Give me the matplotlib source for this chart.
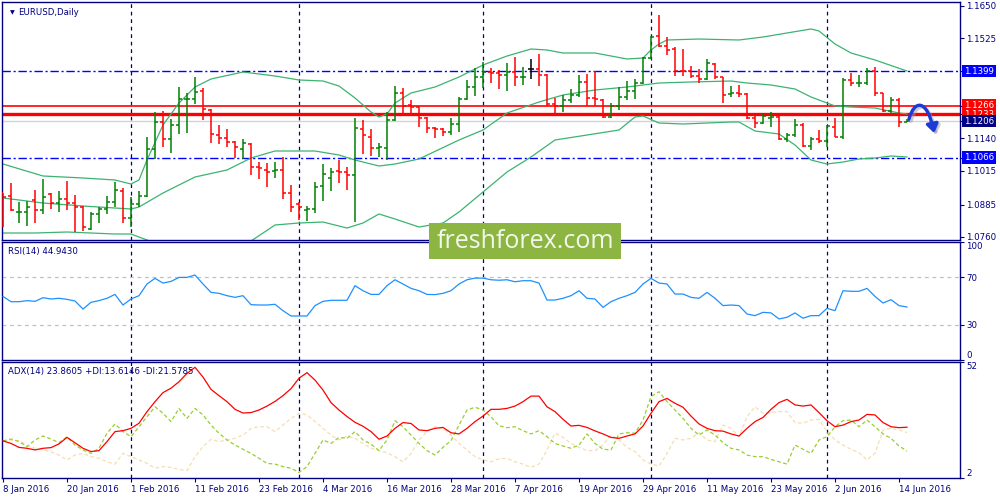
import matplotlib
matplotlib.use("Agg")
import matplotlib.pyplot as plt
from matplotlib.path import Path
from matplotlib.patches import FancyArrowPatch, Rectangle
from matplotlib import transforms
import numpy as np

# ---------------- data ----------------
opens = [1.0928, 1.0918, 1.0855, 1.0855, 1.0903, 1.0864, 1.0925, 1.0890, 1.0905, 1.0890,
         1.0877, 1.0790, 1.0849, 1.0868, 1.0894, 1.0937, 1.0832, 1.0887, 1.0918, 1.1099,
         1.1204, 1.1138, 1.1192, 1.1290, 1.1290, 1.1323, 1.1249, 1.1153, 1.1140, 1.1125,
         1.1098, 1.1118, 1.1031, 1.1018, 1.1016, 1.1018, 1.0928, 1.0887, 1.0864, 1.0868,
         1.0957, 1.0986, 1.1014, 1.1009, 1.0999, 1.1176, 1.1147, 1.1102, 1.1102, 1.1211,
         1.1314, 1.1269, 1.1260, 1.1217, 1.1179, 1.1175, 1.1163, 1.1195, 1.1290, 1.1337,
         1.1375, 1.1397, 1.1393, 1.1384, 1.1397, 1.1375, 1.1406, 1.1406, 1.1384, 1.1272,
         1.1265, 1.1288, 1.1307, 1.1358, 1.1294, 1.1288, 1.1221, 1.1265, 1.1301, 1.1324,
         1.1352, 1.1448, 1.1534, 1.1496, 1.1483, 1.1401, 1.1401, 1.1380, 1.1367, 1.1427,
         1.1375, 1.1311, 1.1316, 1.1311, 1.1217, 1.1200, 1.1217, 1.1224, 1.1136, 1.1153,
         1.1192, 1.1112, 1.1136, 1.1131, 1.1185, 1.1144, 1.1365, 1.1352, 1.1355, 1.1401,
         1.1314, 1.1247, 1.1288, 1.1204]
highs = [1.0931, 1.0967, 1.0896, 1.0899, 1.0941, 1.0984, 1.0928, 1.0937, 1.0976, 1.0922,
         1.0880, 1.0855, 1.0877, 1.0918, 1.0971, 1.0948, 1.0915, 1.0937, 1.1144, 1.1240,
         1.1246, 1.1213, 1.1337, 1.1314, 1.1375, 1.1333, 1.1252, 1.1192, 1.1176, 1.1131,
         1.1138, 1.1121, 1.1050, 1.1044, 1.1048, 1.1067, 1.0961, 1.0896, 1.0881, 1.0971,
         1.1041, 1.1027, 1.1057, 1.1029, 1.1217, 1.1211, 1.1176, 1.1121, 1.1243, 1.1342,
         1.1333, 1.1288, 1.1262, 1.1224, 1.1185, 1.1179, 1.1220, 1.1301, 1.1365, 1.1410,
         1.1436, 1.1410, 1.1403, 1.1429, 1.1452, 1.1416, 1.1446, 1.1465, 1.1388, 1.1294,
         1.1307, 1.1329, 1.1384, 1.1388, 1.1401, 1.1290, 1.1275, 1.1337, 1.1362, 1.1367,
         1.1455, 1.1534, 1.1615, 1.1532, 1.1491, 1.1483, 1.1419, 1.1407, 1.1445, 1.1429,
         1.1378, 1.1342, 1.1346, 1.1314, 1.1236, 1.1236, 1.1242, 1.1226, 1.1162, 1.1213,
         1.1198, 1.1147, 1.1172, 1.1192, 1.1217, 1.1371, 1.1393, 1.1384, 1.1410, 1.1416,
         1.1316, 1.1301, 1.1297, 1.1213]
lows = [1.0800, 1.0862, 1.0815, 1.0804, 1.0815, 1.0849, 1.0867, 1.0858, 1.0864, 1.0778,
        1.0785, 1.0787, 1.0815, 1.0849, 1.0874, 1.0813, 1.0800, 1.0877, 1.0915, 1.1059,
        1.1106, 1.1085, 1.1157, 1.1160, 1.1271, 1.1211, 1.1124, 1.1118, 1.1106, 1.1066,
        1.1061, 1.0999, 1.0984, 1.0954, 1.0986, 1.0907, 1.0858, 1.0826, 1.0823, 1.0851,
        1.0900, 1.0939, 1.0969, 1.0941, 1.0819, 1.1079, 1.1072, 1.1070, 1.1057, 1.1208,
        1.1236, 1.1239, 1.1185, 1.1159, 1.1140, 1.1149, 1.1153, 1.1166, 1.1288, 1.1305,
        1.1333, 1.1352, 1.1329, 1.1324, 1.1342, 1.1346, 1.1369, 1.1342, 1.1265, 1.1236,
        1.1243, 1.1275, 1.1301, 1.1265, 1.1265, 1.1217, 1.1217, 1.1249, 1.1288, 1.1290,
        1.1350, 1.1444, 1.1493, 1.1461, 1.1380, 1.1380, 1.1371, 1.1355, 1.1365, 1.1367,
        1.1278, 1.1301, 1.1301, 1.1213, 1.1179, 1.1195, 1.1183, 1.1134, 1.1127, 1.1144,
        1.1108, 1.1095, 1.1124, 1.1108, 1.1144, 1.1136, 1.1342, 1.1339, 1.1346, 1.1303,
        1.1243, 1.1237, 1.1185, 1.1202]
closes = [1.0915, 1.0864, 1.0858, 1.0877, 1.0864, 1.0915, 1.0890, 1.0905, 1.0890, 1.0877,
          1.0800, 1.0849, 1.0868, 1.0896, 1.0941, 1.0832, 1.0887, 1.0918, 1.1099, 1.1204,
          1.1138, 1.1192, 1.1290, 1.1293, 1.1320, 1.1252, 1.1157, 1.1140, 1.1125, 1.1108,
          1.1121, 1.1031, 1.1025, 1.1009, 1.1020, 1.0928, 1.0877, 1.0877, 1.0868, 1.0954,
          1.1003, 1.1012, 1.1009, 1.0999, 1.1179, 1.1153, 1.1102, 1.1108, 1.1211, 1.1314,
          1.1265, 1.1262, 1.1217, 1.1179, 1.1175, 1.1163, 1.1195, 1.1290, 1.1337, 1.1375,
          1.1397, 1.1393, 1.1384, 1.1397, 1.1375, 1.1378, 1.1406, 1.1384, 1.1272, 1.1265,
          1.1288, 1.1307, 1.1358, 1.1294, 1.1290, 1.1221, 1.1265, 1.1301, 1.1324, 1.1352,
          1.1448, 1.1532, 1.1496, 1.1481, 1.1401, 1.1400, 1.1380, 1.1367, 1.1429, 1.1375,
          1.1307, 1.1316, 1.1311, 1.1217, 1.1200, 1.1226, 1.1224, 1.1136, 1.1153, 1.1192,
          1.1112, 1.1136, 1.1131, 1.1188, 1.1147, 1.1365, 1.1352, 1.1355, 1.1401, 1.1314,
          1.1247, 1.1288, 1.1204, 1.1206]

# Bollinger bands, read at selected bars
bb_upper_idx = [0, 5, 10, 14, 16, 17, 18, 20, 22, 24, 26, 30, 34, 37, 40, 42, 44, 46, 47, 48,
                49, 51, 54, 57, 60, 63, 66, 68, 70, 74, 78, 80, 81, 82, 83, 87, 92, 95, 98, 101,
                102, 104, 106, 109, 113]
bb_upper = [1.10412, 1.09950, 1.09873, 1.09796, 1.09641, 1.09796, 1.10566, 1.11915, 1.12762,
            1.13379, 1.13687, 1.13957, 1.13803, 1.13649, 1.13610, 1.13417, 1.12955, 1.12416,
            1.12223, 1.12339, 1.12762, 1.13148, 1.13379, 1.13764, 1.14227, 1.14573, 1.14843,
            1.14804, 1.14689, 1.14689, 1.14458, 1.14496, 1.14804, 1.15036, 1.15190, 1.15228,
            1.15190, 1.15305, 1.15460, 1.15614, 1.15537, 1.15036, 1.14689, 1.14419, 1.13995]
bb_mid_idx = [0, 5, 10, 16, 17, 20, 24, 28, 31, 34, 39, 42, 44, 47, 49, 52, 57, 60, 63, 67,
              70, 74, 78, 82, 86, 91, 93, 96, 99, 101, 104, 106, 109, 112, 113]
bb_mid = [1.09102, 1.08909, 1.08794, 1.08678, 1.08755, 1.09295, 1.09911, 1.10181, 1.10643,
          1.10913, 1.10913, 1.10759, 1.10566, 1.10335, 1.10412, 1.10605, 1.11337, 1.11722,
          1.12377, 1.12801, 1.13071, 1.13263, 1.13379, 1.13533, 1.13572, 1.13610, 1.13533,
          1.13456, 1.13302, 1.12994, 1.12647, 1.12608, 1.12570, 1.12377, 1.12339]
bb_lower_idx = [0, 4, 8, 14, 16, 18, 20, 24, 28, 31, 34, 37, 40, 43, 45, 47, 49, 52, 55, 57,
                60, 63, 66, 69, 73, 77, 79, 80, 82, 85, 91, 92, 94, 97, 99, 101, 103, 105, 107,
                109, 111, 113]
bb_lower = [1.07754, 1.07754, 1.07792, 1.07715, 1.07715, 1.07484, 1.07176, 1.06906, 1.07098,
            1.07445, 1.08062, 1.08139, 1.08177, 1.07946, 1.08139, 1.08486, 1.08293, 1.07985,
            1.08139, 1.08563, 1.09333, 1.10104, 1.10682, 1.11337, 1.11529, 1.11722, 1.12223,
            1.12262, 1.11992, 1.11953, 1.12030, 1.12030, 1.11684, 1.11568, 1.11144, 1.10566,
            1.10412, 1.10489, 1.10605, 1.10643, 1.10720, 1.10682]

rsi = [53.9, 49.4, 49.4, 50.3, 49.7, 52.8, 51.7, 52.3, 51.4, 50.0,
       43.2, 48.9, 50.3, 52.3, 55.6, 46.6, 51.7, 54.5, 64.4, 69.2,
       65.2, 66.6, 70.0, 70.0, 72.0, 64.4, 57.3, 56.5, 54.5, 53.1,
       54.5, 46.9, 46.6, 46.6, 47.2, 41.8, 37.3, 37.3, 37.3, 46.1,
       49.7, 50.6, 50.6, 50.6, 63.0, 58.7, 55.6, 55.6, 63.0, 68.0,
       64.4, 60.7, 58.7, 55.6, 55.4, 56.5, 58.7, 64.4, 68.0, 69.4,
       69.4, 68.0, 67.6, 68.0, 66.3, 67.2, 67.2, 65.2, 50.8, 50.8,
       52.3, 54.5, 58.7, 52.3, 51.7, 44.6, 49.4, 52.3, 54.5, 57.3,
       64.4, 69.2, 65.2, 64.4, 55.9, 55.9, 53.1, 52.3, 57.3, 52.3,
       46.1, 46.6, 46.1, 39.0, 37.6, 40.4, 39.9, 34.8, 36.2, 39.9,
       35.4, 37.6, 37.6, 43.8, 41.8, 58.7, 58.2, 58.2, 60.7, 53.9,
       48.3, 51.1, 46.1, 44.9]

adx = [18.0, 16.9, 15.2, 14.8, 14.1, 14.8, 15.1, 16.7, 19.5, 17.2,
       14.8, 13.4, 13.8, 17.7, 22.0, 22.4, 23.4, 25.6, 30.6, 34.9,
       38.8, 40.7, 43.5, 47.1, 49.7, 45.5, 40.2, 37.5, 34.9, 31.6,
       30.0, 30.2, 31.3, 33.0, 35.0, 37.5, 40.5, 45.0, 47.4, 44.2,
       39.9, 34.5, 31.3, 28.5, 26.0, 24.3, 22.0, 18.7, 20.1, 23.4,
       25.9, 25.5, 22.7, 22.4, 23.4, 23.8, 21.5, 21.0, 23.4, 26.3,
       28.7, 31.6, 31.6, 32.0, 33.0, 34.9, 37.3, 37.3, 32.7, 30.6,
       27.3, 24.4, 24.7, 23.8, 22.3, 21.0, 19.5, 19.1, 20.1, 21.0,
       24.4, 29.9, 34.9, 36.3, 34.2, 32.5, 28.7, 25.3, 23.4, 22.4,
       22.2, 21.0, 20.1, 23.4, 26.3, 28.1, 31.6, 34.5, 35.9, 33.5,
       33.0, 33.5, 30.2, 26.7, 24.1, 24.8, 26.3, 27.0, 29.4, 29.2,
       25.9, 24.1, 23.7, 23.9]
plus_di = [18.0, 18.8, 17.7, 15.5, 18.4, 20.1, 18.8, 17.2, 19.8, 16.2,
           14.1, 12.6, 14.8, 21.3, 25.3, 22.0, 19.8, 24.1, 28.4, 32.7,
           29.9, 26.3, 32.0, 27.7, 32.0, 29.2, 24.8, 21.3, 18.4, 16.2,
           14.4, 12.6, 10.5, 8.3, 8.0, 6.9, 6.2, 4.4, 6.9, 12.6,
           18.4, 16.9, 19.5, 19.1, 22.0, 18.4, 16.6, 13.8, 18.4, 26.7,
           24.1, 20.5, 16.9, 13.8, 11.9, 15.2, 18.1, 24.8, 31.3, 32.5,
           31.3, 28.4, 24.5, 23.7, 24.1, 22.4, 21.0, 22.4, 19.8, 16.9,
           15.8, 14.8, 16.2, 21.0, 16.9, 14.4, 14.1, 21.0, 21.5, 21.3,
           27.0, 37.1, 39.2, 34.9, 31.3, 27.7, 23.4, 20.5, 22.7, 20.5,
           17.2, 14.8, 14.1, 11.9, 11.2, 11.2, 10.0, 9.0, 8.0, 16.2,
           14.4, 12.6, 18.4, 19.8, 24.1, 26.7, 27.0, 24.1, 27.0, 24.1,
           21.0, 19.1, 15.8, 13.6]
minus_di = [18.0, 18.4, 18.1, 16.2, 14.8, 14.1, 13.3, 11.9, 9.8, 11.9,
            12.6, 11.2, 10.5, 9.0, 8.0, 12.6, 11.2, 9.8, 8.3, 6.2,
            6.9, 6.6, 5.7, 5.2, 11.2, 15.5, 18.7, 17.7, 18.4, 19.1,
            20.5, 23.4, 24.1, 24.1, 22.0, 24.8, 27.7, 29.9, 29.2, 26.3,
            23.4, 20.5, 18.4, 20.1, 19.1, 16.9, 14.8, 13.8, 12.9, 11.2,
            9.0, 12.6, 18.4, 22.0, 24.1, 23.4, 20.5, 16.9, 14.1, 11.2,
            9.8, 9.0, 10.3, 10.5, 9.0, 8.0, 6.6, 8.0, 14.1, 21.3,
            19.5, 16.9, 15.2, 13.8, 13.8, 16.2, 20.5, 18.4, 15.2, 13.4,
            9.8, 8.0, 7.2, 12.6, 19.1, 18.4, 19.1, 21.5, 18.4, 17.7,
            24.8, 23.4, 19.8, 28.4, 32.7, 29.9, 30.2, 30.6, 30.6, 25.9,
            25.6, 27.0, 27.3, 22.0, 18.4, 16.2, 14.4, 12.9, 9.8, 12.6,
            22.7, 23.4, 22.7, 21.6]

date_idx = [0, 8, 16, 24, 32, 40, 48, 56, 64, 72, 80, 88, 96, 104, 112]
date_labels = ["8 Jan 2016", "20 Jan 2016", "1 Feb 2016", "11 Feb 2016", "23 Feb 2016",
               "4 Mar 2016", "16 Mar 2016", "28 Mar 2016", "7 Apr 2016", "19 Apr 2016",
               "29 Apr 2016", "11 May 2016", "23 May 2016", "2 Jun 2016", "14 Jun 2016"]
month_sep_idx = [16, 37, 60, 81, 103]

price_ticks = [1.1650, 1.1525, 1.1140, 1.1015, 1.0885, 1.0760]
blue_levels = [1.1399, 1.1066]
red_levels = [1.1266, 1.1233]
bid_price = 1.1206
rsi_ticks = [100, 70, 30, 0]
rsi_levels = [70, 30]
adx_ticks = [52, 2]

title = "EURUSD,Daily"
rsi_title = "RSI(14) 44.9430"
adx_title = "ADX(14) 23.8605 +DI:13.6146 -DI:21.5785"
watermark = "freshforex.com"

# ---------------- drawing ----------------
navy = '#000080'
FS = 6.2
plt.rcParams['font.family'] = ['DejaVu Sans']

fig = plt.figure(figsize=(10, 5), dpi=100)
fig.patch.set_facecolor('white')
L, R = 0.002, 0.960
ax_main = fig.add_axes([L, 1 - 240 / 500, R - L, 238 / 500])
ax_rsi = fig.add_axes([L, 1 - 360 / 500, R - L, 118 / 500])
ax_adx = fig.add_axes([L, 1 - 478 / 500, R - L, 116 / 500])

for ax in (ax_main, ax_rsi, ax_adx):
    ax.set_xlim(-0.125, 119.625)
    ax.set_facecolor('white')
    for s in ax.spines.values():
        s.set_color(navy)
        s.set_linewidth(1.0)
    ax.yaxis.tick_right()
    ax.tick_params(axis='y', which='both', left=False, right=True, length=3, width=0.8,
                   color=navy, labelsize=FS, labelcolor=navy, pad=1.5)
    ax.tick_params(axis='x', bottom=False, labelbottom=False, top=False)
    for i in month_sep_idx:
        ax.axvline(i, color=navy, lw=0.9, ls=(0, (3, 3)), zorder=1)

# ---- main price panel ----
ax_main.set_ylim(1.07484, 1.16654)
n = len(closes)
x = np.arange(n)
o = np.array(opens); h = np.array(highs); l = np.array(lows); c = np.array(closes)
cols = np.where(c > o, '#008000', np.where(c < o, '#ff0000', '#000000'))

ax_main.axhline(bid_price, color='#d3d3d3', lw=1.0, zorder=1)
for lv in blue_levels:
    ax_main.axhline(lv, color='#0000ff', lw=1.0, ls=(0, (6, 2, 1.5, 2)), zorder=1)
ax_main.axhline(red_levels[0], color='#ff0000', lw=1.2, zorder=2)
ax_main.axhline(red_levels[1], color='#ff0000', lw=2.4, zorder=2)

ax_main.plot(bb_upper_idx, bb_upper, color='#3cb371', lw=0.9, zorder=2)
ax_main.plot(bb_mid_idx, bb_mid, color='#3cb371', lw=0.9, zorder=2)
ax_main.plot(bb_lower_idx, bb_lower, color='#3cb371', lw=0.9, zorder=2)

ax_main.vlines(x, l, h, colors=cols, lw=1.1, zorder=3)
ax_main.hlines(o, x - 0.4, x, colors=cols, lw=1.1, zorder=3)
ax_main.hlines(c, x, x + 0.4, colors=cols, lw=1.1, zorder=3)

all_ticks = sorted(price_ticks + blue_levels + red_levels + [bid_price], reverse=True)
ax_main.set_yticks(all_ticks)
ax_main.set_yticklabels([f"{v:.4f}" if v in price_ticks else "" for v in all_ticks])

def boxed(ax, v, fc):
    ax.annotate(f"{v:.4f}", xy=(1, v), xycoords=('axes fraction', 'data'),
                xytext=(4, 0), textcoords='offset pixels', va='center', ha='left',
                fontsize=FS, color='white', annotation_clip=False,
                bbox=dict(boxstyle='square,pad=0.2', fc=fc, ec='none'), zorder=5)

boxed(ax_main, blue_levels[0], '#0000ff')
boxed(ax_main, blue_levels[1], '#0000ff')
boxed(ax_main, red_levels[0], '#ff0000')
boxed(ax_main, red_levels[1], '#ff0000')
boxed(ax_main, bid_price, navy)

ax_main.text(0.008, 0.955, "\u25BC", transform=ax_main.transAxes, fontsize=4.5,
             color=navy, va='center', ha='left')
ax_main.text(0.017, 0.955, title, transform=ax_main.transAxes, fontsize=FS,
             color=navy, va='center', ha='left')

# hand-drawn style arrow
A = (113.25, 1.12146)
C1 = (113.9, 1.12878)
C2 = (115.5, 1.12955)
B = (116.4, 1.11607)
arrow_path = Path([A, C1, C2, B], [Path.MOVETO, Path.CURVE4, Path.CURVE4, Path.CURVE4])
shadow_tr = transforms.offset_copy(ax_main.transData, fig=fig, x=2, y=-2, units='dots')
sh = FancyArrowPatch(path=arrow_path, arrowstyle='-|>,head_length=5,head_width=3.5',
                     lw=2.6, color='#9a9ab0', alpha=0.5, transform=shadow_tr,
                     clip_on=False, zorder=6)
ax_main.add_patch(sh)
ar = FancyArrowPatch(path=arrow_path, arrowstyle='-|>,head_length=5,head_width=3.5',
                     lw=2.4, color='#1c3ad8', transform=ax_main.transData,
                     clip_on=False, zorder=7)
ax_main.add_patch(ar)

# ---- RSI panel ----
ax_rsi.set_ylim(0, 100)
for lv in rsi_levels:
    ax_rsi.axhline(lv, color='#c0c0c0', lw=0.9, ls=(0, (3, 3)), zorder=1)
ax_rsi.plot(x, rsi, color='#1e90ff', lw=0.9, zorder=3)
ax_rsi.set_yticks(rsi_ticks)
ax_rsi.set_yticklabels([str(v) for v in rsi_ticks])
for t, v in zip(ax_rsi.get_yticklabels(), rsi_ticks):
    if v == 100:
        t.set_va('top')
    elif v == 0:
        t.set_va('bottom')
ax_rsi.text(0.006, 0.92, rsi_title, transform=ax_rsi.transAxes, fontsize=FS,
            color=navy, va='center', ha='left')

# ---- ADX panel ----
ax_adx.set_ylim(2, 52)
ax_adx.plot(x, minus_di, color='#f5deb3', lw=0.9, ls=(0, (3, 2)), zorder=2)
ax_adx.plot(x, plus_di, color='#9acd32', lw=0.9, ls=(0, (3, 2)), zorder=2)
ax_adx.plot(x, adx, color='#ff0000', lw=0.9, zorder=3)
ax_adx.set_yticks(adx_ticks)
ax_adx.set_yticklabels([str(v) for v in adx_ticks])
for t, v in zip(ax_adx.get_yticklabels(), adx_ticks):
    t.set_va('top' if v == 52 else 'bottom')
ax_adx.text(0.006, 0.915, adx_title, transform=ax_adx.transAxes, fontsize=FS,
            color=navy, va='center', ha='left')

ax_adx.tick_params(axis='x', bottom=True, labelbottom=True, length=3, width=0.8,
                   color=navy, labelsize=FS, labelcolor=navy, pad=2)
ax_adx.set_xticks(date_idx)
ax_adx.set_xticklabels(date_labels, ha='left')

# ---- watermark ----
fig.patches.append(Rectangle((0.429, 1 - 259 / 500), 0.192, 36 / 500, transform=fig.transFigure,
                             facecolor='#8db542', edgecolor='none', zorder=10))
fig.text(0.525, 1 - 241 / 500, watermark, fontsize=18, family='Open Sans', color='#f4f8ec',
         ha='center', va='center', zorder=11)

fig.savefig('out.png', dpi=100, facecolor='white')
